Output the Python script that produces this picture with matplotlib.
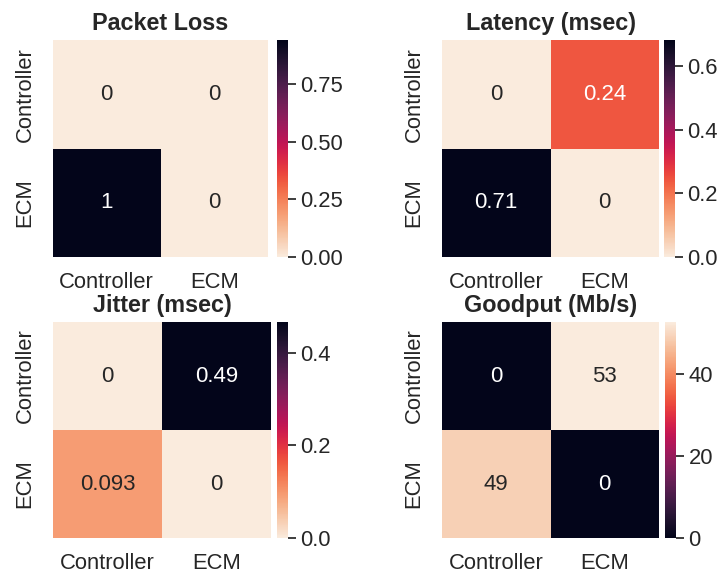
import matplotlib
matplotlib.use("Agg")
import matplotlib.pyplot as plt
import numpy as np
import seaborn as sns

labels = ["Controller", "ECM"]
titles = ["Packet Loss", "Latency (msec)", "Jitter (msec)", "Goodput (Mb/s)"]
packet_loss = [[0, 0], [1, 0]]
latency = [[0, 0.24], [0.71, 0]]
jitter = [[0, 0.49], [0.093, 0]]
goodput = [[0, 53], [49, 0]]
cbar_ticks = [[0, 0.25, 0.5, 0.75], [0, 0.2, 0.4, 0.6], [0, 0.2, 0.4], [0, 20, 40]]
cmaps = ["rocket_r", "rocket_r", "rocket_r", "rocket"]

sns.set_theme(style="white", font_scale=1.4)
plt.rcParams['font.family'] = ['Liberation Sans', 'DejaVu Sans']

W, H = 725, 578
fig = plt.figure(figsize=(W / 100, H / 100), dpi=100)

def rect(x, y, w, h):
    return [x / W, 1 - (y + h) / H, w / W, h / H]

ax_px = [(53, 40, 215, 217), (442, 40, 217, 217), (53, 322, 218, 216), (442, 322, 217, 216)]
cb_px = [(277, 40, 11, 217), (664, 40, 11, 217), (277, 322, 11, 216), (665, 322, 11, 216)]

data = [packet_loss, latency, jitter, goodput]
for i in range(4):
    ax = fig.add_axes(rect(*ax_px[i]))
    cax = fig.add_axes(rect(*cb_px[i]))
    sns.heatmap(np.array(data[i], dtype=float), ax=ax, cbar_ax=cax, cmap=cmaps[i],
                robust=True, annot=True, annot_kws={"size": 16},
                xticklabels=labels, yticklabels=labels,
                cbar_kws={"ticks": cbar_ticks[i]})
    ax.set_title(titles[i], fontsize=16.8, fontweight="bold", color=".15", pad=7)
    ax.set_yticklabels(labels, rotation=90, va="center")
    ax.set_xticklabels(labels, rotation=0)
    ax.tick_params(axis="x", length=0, pad=10.5, labelsize=15.8, colors=".15")
    ax.tick_params(axis="y", length=0, pad=12.5, labelsize=15.8, colors=".15")
    cax.tick_params(axis="y", length=6, width=1.25, pad=3, labelsize=15.8, colors=".15")
    for s in cax.spines.values():
        s.set_visible(False)

fig.savefig("out.png", dpi=100)
